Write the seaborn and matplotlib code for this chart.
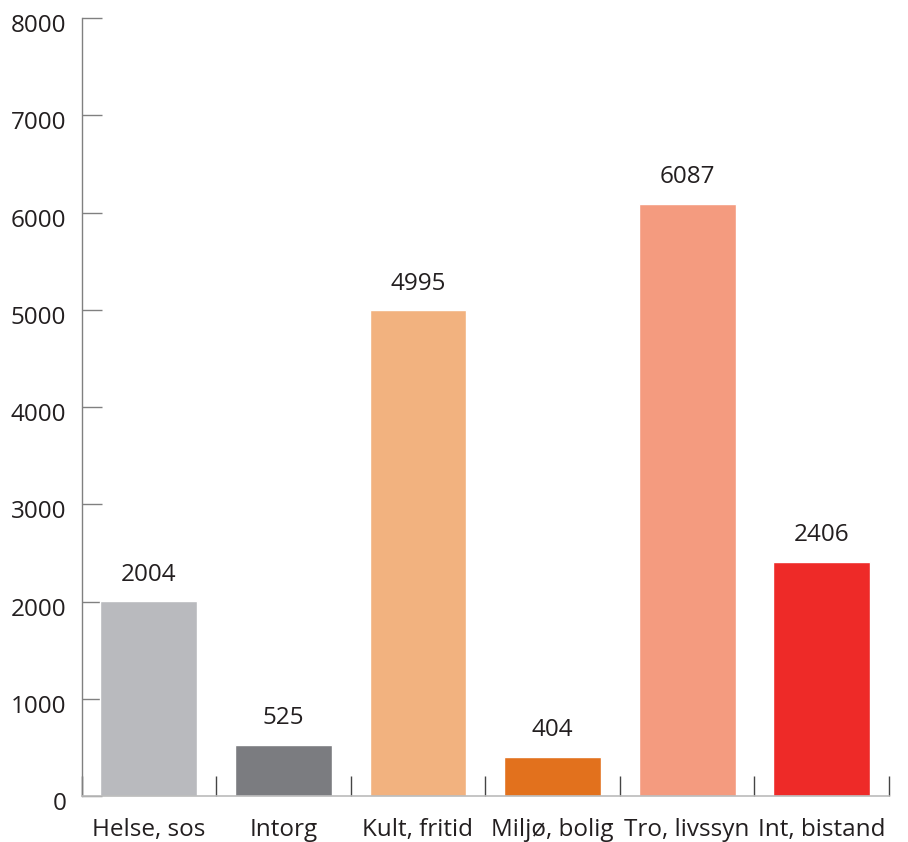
import matplotlib
matplotlib.use("Agg")
import matplotlib.pyplot as plt
import matplotlib.transforms as mtransforms
import seaborn as sns
import pandas as pd
import numpy as np

categories = ["Helse, sos", "Intorg", "Kult, fritid", "Miljø, bolig", "Tro, livssyn", "Int, bistand"]
values = [2004, 525, 4995, 404, 6087, 2406]
colors = ["#B9BABE", "#7B7C80", "#F2B27F", "#E2711D", "#F49B7F", "#EE2A28"]
yticks = [0, 1000, 2000, 3000, 4000, 5000, 6000, 7000, 8000]

sns.set_style("white")
plt.rcParams["font.family"] = ["Open Sans", "DejaVu Sans"]

df = pd.DataFrame({"kategori": categories, "antall": values})

fig = plt.figure(figsize=(9.08, 8.42), dpi=100)
ax = fig.add_axes([81.5 / 908, 1 - 796 / 842, (889 - 81.5) / 908, (796 - 18) / 842])

sns.barplot(data=df, x="kategori", y="antall", hue="kategori", palette=colors,
            order=categories, hue_order=categories, width=0.72, legend=False,
            saturation=1, ax=ax)

text_color = "#231F20"
fs = 17.5
for i, v in enumerate(values):
    ax.text(i, v + 150, str(v), ha="center", va="bottom", fontsize=fs, color=text_color)

ax.set_xlim(-0.5, len(categories) - 0.5)
ax.set_ylim(0, 8000)
ax.set_yticks(yticks)
ax.set_yticklabels([str(t) for t in yticks], fontsize=fs, color=text_color)
ax.set_xticks(range(len(categories)))
ax.set_xticklabels(categories, fontsize=fs, color=text_color)
ax.set_xticks(np.arange(-0.5, len(categories)), minor=True)
ax.tick_params(axis="x", which="major", bottom=True, length=0, pad=15.5)
ax.tick_params(axis="x", which="minor", bottom=True, direction="in", length=14.4,
               width=1.0, color="#444444")
ax.tick_params(axis="y", which="major", left=True, direction="in", length=14.4,
               width=1.0, color="#808080", pad=11)
ax.set_xlabel("")
ax.set_ylabel("")

# y tick labels sit slightly below their tick marks
shift = mtransforms.ScaledTranslation(0, -5 / 100, fig.dpi_scale_trans)
for lbl in ax.get_yticklabels():
    lbl.set_transform(lbl.get_transform() + shift)

for s in ["top", "right"]:
    ax.spines[s].set_visible(False)
ax.spines["left"].set_color("#808080")
ax.spines["left"].set_linewidth(1.0)
ax.spines["bottom"].set_color("#BBBBBB")
ax.spines["bottom"].set_linewidth(1.2)

fig.savefig("out.png", dpi=100)
